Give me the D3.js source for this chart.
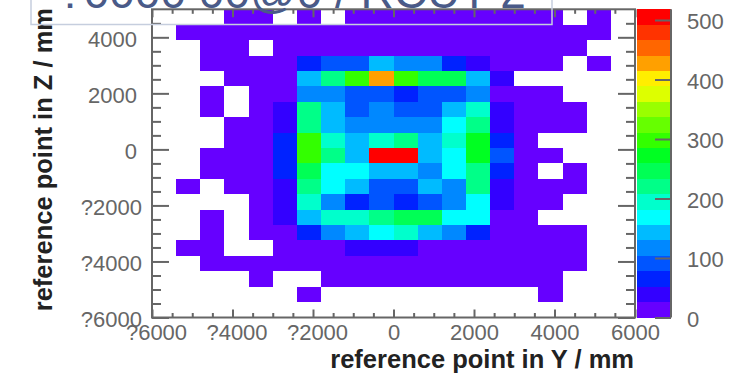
<!DOCTYPE html>
<html>
<head>
<meta charset="utf-8">
<script src="https://cdn.jsdelivr.net/npm/d3@7"></script>
<style>
body { margin: 0; background: #fff; }
svg { display: block; font-family: "Liberation Sans", Arial, Helvetica, sans-serif; }
</style>
</head>
<body>
<svg id="chart" width="748" height="377"></svg>
<script>
// lower bin edges in Y (columns) and Z (rows, top row first)
var binY = [-6000, -5400, -4800, -4200, -3600, -3000, -2400, -1800, -1200, -600,
            0, 600, 1200, 1800, 2400, 3000, 3600, 4200, 4800, 5400];
var binZ = [4450, 3900, 3350, 2800, 2250, 1700, 1150, 600, 50, -500,
            -1050, -1600, -2150, -2700, -3250, -3800, -4350, -4900, -5450, -6000];
var binWidthY = 600, binWidthZ = 550;

// entries per bin, one row per Z bin (same order as binZ)
var counts = [
  [0,0,0,3,5,0,2,0,4,6,8,7,9,6,5,4,3,0,2,0],
  [0,2,4,6,9,12,14,18,16,20,19,17,15,13,10,8,6,4,3,0],
  [0,0,3,5,0,8,14,19,22,21,23,20,18,15,11,7,4,2,0,0],
  [0,0,2,6,9,16,64,92,88,148,115,120,70,44,18,9,5,0,2,0],
  [0,0,0,4,10,21,150,222,305,432,298,250,242,146,36,0,0,0,0,0],
  [0,0,2,0,8,20,112,110,95,90,68,93,96,116,22,10,4,0,0,0],
  [0,0,3,0,11,38,218,148,88,120,92,96,144,192,41,15,7,3,0,0],
  [0,0,0,4,12,42,226,152,114,118,122,109,172,216,47,18,8,2,0,0],
  [0,0,0,5,14,66,302,190,150,196,224,143,198,280,62,21,0,0,0,0],
  [0,0,3,6,16,70,306,220,146,518,505,152,176,284,84,19,6,0,0,0],
  [0,0,2,7,15,72,252,168,174,140,138,112,170,224,66,17,0,3,0,0],
  [0,2,0,6,13,46,228,172,146,96,98,144,120,218,44,16,8,2,0,0],
  [0,0,0,0,12,40,196,114,70,94,64,97,118,168,38,14,5,0,0,0],
  [0,0,3,0,14,34,146,200,192,224,254,250,174,165,22,9,0,0,0,0],
  [0,0,2,0,9,18,64,116,148,170,196,144,114,66,20,11,5,2,0,0],
  [0,1,3,0,0,12,19,24,34,38,32,23,20,15,12,8,4,2,0,0],
  [0,0,2,3,5,7,10,12,14,15,13,11,9,8,6,5,3,2,0,0],
  [0,0,0,0,2,0,0,3,4,5,6,4,5,4,3,2,1,0,0,0],
  [0,0,0,0,0,0,1,0,0,0,0,0,0,0,0,0,1,0,0,0],
  [0,0,0,0,0,0,0,0,0,0,0,0,0,0,0,0,0,0,0,0]
];

var xMajor = [-6000, -4000, -2000, 0, 2000, 4000, 6000];
var yMajor = [-6000, -4000, -2000, 0, 2000, 4000];
var xMinor = [-5500, -5000, -4500, -3500, -3000, -2500, -1500, -1000, -500,
              500, 1000, 1500, 2500, 3000, 3500, 4500, 5000, 5500];
var yMinor = [-5500, -5000, -4500, -3500, -3000, -2500, -1500, -1000, -500,
              500, 1000, 1500, 2500, 3000, 3500, 4500];
var zTicks = [0, 100, 200, 300, 400, 500];
var zMax = 518;

var palette = ['#6600ff', '#3300ff', '#0022ff', '#0055ff', '#0088ff',
               '#00bbff', '#00ffff', '#00ffcc', '#00ff88', '#00ff55',
               '#00ff22', '#33ff00', '#66ff00', '#99ff00', '#ddff00',
               '#ffee00', '#ffa000', '#ff6600', '#ff3300', '#ff0000'];

var titleText = '?0000 00@0 / RCUT 2';
var xTitle = 'reference point in Y / mm';
var yTitle = 'reference point in Z / mm';

var svg = d3.select('#chart');

var x = d3.scaleLinear().domain([-6000, 6000]).range([152, 635]);
var y = d3.scaleLinear().domain([-6000, 5000]).range([317.5, 9.3]);
var color = d3.scaleQuantize().domain([0, zMax]).range(palette);
var cz = d3.scaleLinear().domain([0, zMax]).range([317.5, 9.3]);

var labelFmt = function(d) { return d < 0 ? '?' + Math.abs(d) : String(d); };
var axisGrey = '#666666';

// cells
var cells = [];
counts.forEach(function(row, j) {
  row.forEach(function(v, i) {
    if (v > 0) cells.push({ y0: binY[i], z0: binZ[j], v: v });
  });
});

svg.append('g')
  .attr('shape-rendering', 'crispEdges')
  .selectAll('rect')
  .data(cells)
  .enter().append('rect')
  .attr('x', function(d) { return x(d.y0); })
  .attr('y', function(d) { return y(d.z0 + binWidthZ); })
  .attr('width', function(d) { return x(d.y0 + binWidthY) - x(d.y0); })
  .attr('height', function(d) { return y(d.z0) - y(d.z0 + binWidthZ); })
  .style('fill', function(d) { return color(d.v); });

// axes with ticks pointing inwards
function styleAxis(g) {
  g.select('.domain').remove();
  g.selectAll('.tick line').style('stroke', axisGrey).style('stroke-width', 2);
  g.selectAll('text').style('fill', axisGrey).style('font-size', '22px');
}

svg.append('g')
  .attr('transform', 'translate(0,317.5)')
  .call(d3.axisBottom(x).tickValues(xMinor).tickSize(-4.5).tickFormat(''))
  .call(styleAxis);

var xAxis = svg.append('g')
  .attr('transform', 'translate(0,317.5)')
  .call(d3.axisBottom(x).tickValues(xMajor).tickSize(-8).tickFormat(labelFmt))
  .call(styleAxis);
xAxis.selectAll('text')
  .attr('y', 22).attr('dy', 0)
  .attr('dx', function(d) { return d < 0 ? 4 : 0; });

svg.append('g')
  .attr('transform', 'translate(0,9.3)')
  .call(d3.axisTop(x).tickValues(xMinor).tickSize(-4.5).tickFormat(''))
  .call(styleAxis);
svg.append('g')
  .attr('transform', 'translate(0,9.3)')
  .call(d3.axisTop(x).tickValues(xMajor).tickSize(-8).tickFormat(''))
  .call(styleAxis);

svg.append('g')
  .attr('transform', 'translate(152,0)')
  .call(d3.axisLeft(y).tickValues(yMinor).tickSize(-9).tickFormat(''))
  .call(styleAxis);

var yAxis = svg.append('g')
  .attr('transform', 'translate(152,0)')
  .call(d3.axisLeft(y).tickValues(yMajor).tickSize(-17).tickFormat(labelFmt))
  .call(styleAxis);
yAxis.selectAll('text')
  .attr('x', function(d) { return d < 0 ? -10 : -15; })
  .attr('dy', '0.4em');

svg.append('g')
  .attr('transform', 'translate(635,0)')
  .call(d3.axisRight(y).tickValues(yMinor).tickSize(-9).tickFormat(''))
  .call(styleAxis);
svg.append('g')
  .attr('transform', 'translate(635,0)')
  .call(d3.axisRight(y).tickValues(yMajor).tickSize(-17).tickFormat(''))
  .call(styleAxis);

// frame
svg.append('rect')
  .attr('x', x(-6000))
  .attr('y', y(5000))
  .attr('width', x(6000) - x(-6000))
  .attr('height', y(-6000) - y(5000))
  .style('fill', 'none')
  .style('stroke', axisGrey)
  .style('stroke-width', 2);

// colour bar
svg.append('g')
  .attr('shape-rendering', 'crispEdges')
  .selectAll('rect')
  .data(palette)
  .enter().append('rect')
  .attr('x', 637)
  .attr('width', 34)
  .attr('y', function(c) { return cz(color.invertExtent(c)[1]); })
  .attr('height', function(c) {
    var e = color.invertExtent(c);
    return cz(e[0]) - cz(e[1]);
  })
  .style('fill', function(c) { return c; });

svg.append('line')
  .attr('x1', 671).attr('x2', 671)
  .attr('y1', cz(zMax)).attr('y2', cz(0))
  .style('stroke', axisGrey)
  .style('stroke-width', 2);

var zAxis = svg.append('g')
  .attr('transform', 'translate(671,0)')
  .call(d3.axisRight(cz).tickValues(zTicks).tickSize(-16).tickPadding(16))
  .call(styleAxis);
zAxis.selectAll('text').attr('dy', '0.4em');

// axis titles
svg.append('text')
  .attr('x', 634)
  .attr('y', 368)
  .attr('text-anchor', 'end')
  .style('font-weight', 'bold')
  .style('font-size', '25.5px')
  .style('fill', '#222')
  .text(xTitle);

svg.append('text')
  .attr('transform', 'translate(52,8) rotate(-90)')
  .attr('text-anchor', 'end')
  .style('font-weight', 'bold')
  .style('font-size', '25.5px')
  .style('fill', '#222')
  .text(yTitle);

// title box, mostly above the canvas
svg.append('rect')
  .attr('x', 31)
  .attr('y', -20)
  .attr('width', 521)
  .attr('height', 44.5)
  .style('fill', 'none')
  .style('stroke', '#c6cede')
  .style('stroke-width', 1.5);

svg.append('text')
  .attr('x', 292)
  .attr('y', 8)
  .attr('text-anchor', 'middle')
  .style('font-size', '46px')
  .style('font-weight', '300')
  .style('fill', '#4a5a88')
  .text(titleText);
</script>
</body>
</html>
